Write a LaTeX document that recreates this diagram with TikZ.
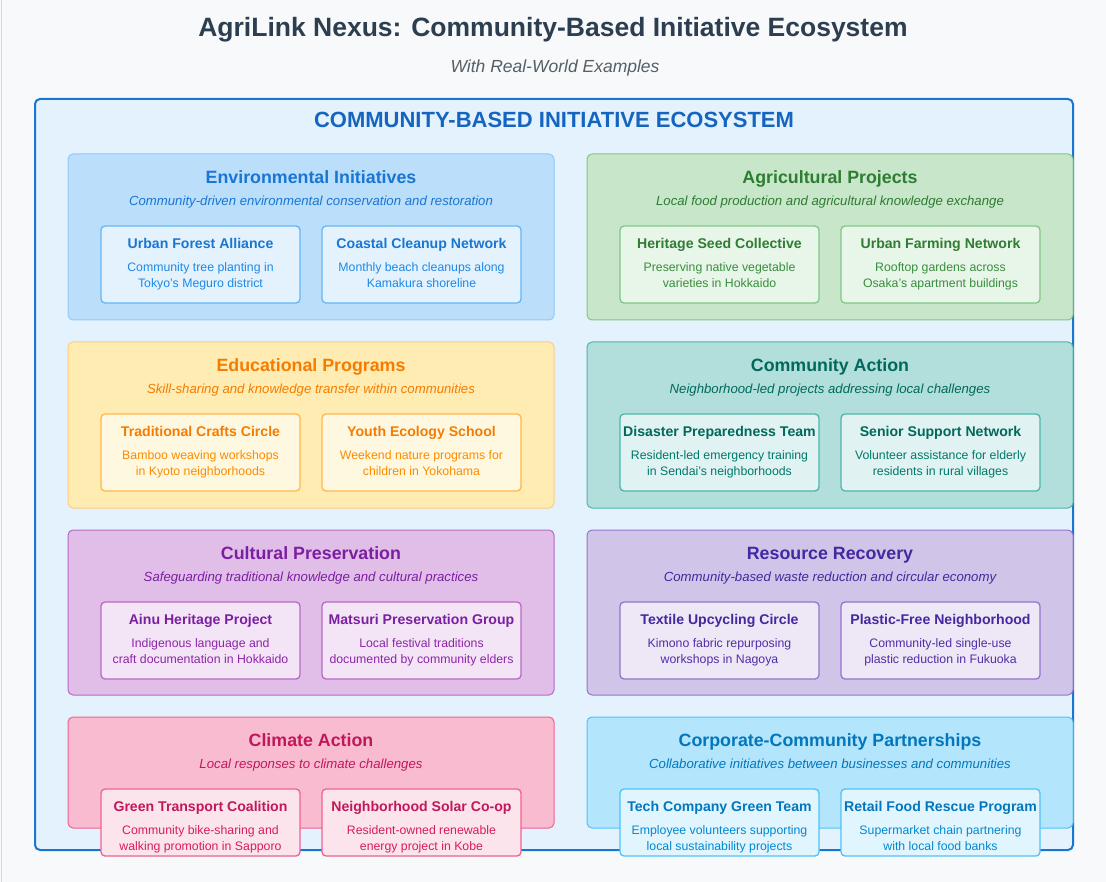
\documentclass[tikz,border=0pt]{standalone}
\usepackage{fontspec}
\setmainfont{Liberation Sans}
\usetikzlibrary{positioning}
\definecolor{pagebg}{HTML}{F8F9FA}
\definecolor{pageline}{HTML}{D6D8DA}
\definecolor{titlecol}{HTML}{2C3E50}
\definecolor{subtcol}{HTML}{555F66}
\definecolor{outfill}{HTML}{E3F2FD}
\definecolor{outdraw}{HTML}{1976D2}
\definecolor{outtext}{HTML}{1565C0}
% themes: fill, border, main, light, subfill, subborder
\definecolor{envfill}{HTML}{BBDEFB}\definecolor{envborder}{HTML}{90CAF9}\definecolor{envmain}{HTML}{1976D2}\definecolor{envlight}{HTML}{1E88E5}\definecolor{envsubfill}{HTML}{E3F2FD}\definecolor{envsubborder}{HTML}{64B5F6}
\definecolor{agrfill}{HTML}{C8E6C9}\definecolor{agrborder}{HTML}{81C784}\definecolor{agrmain}{HTML}{2E7D32}\definecolor{agrlight}{HTML}{388E3C}\definecolor{agrsubfill}{HTML}{E8F5E9}\definecolor{agrsubborder}{HTML}{81C784}
\definecolor{edufill}{HTML}{FFECB3}\definecolor{eduborder}{HTML}{FFCC80}\definecolor{edumain}{HTML}{F57C00}\definecolor{edulight}{HTML}{FB8C00}\definecolor{edusubfill}{HTML}{FFF8E1}\definecolor{edusubborder}{HTML}{FFB74D}
\definecolor{comfill}{HTML}{B2DFDB}\definecolor{comborder}{HTML}{4DB6AC}\definecolor{commain}{HTML}{00695C}\definecolor{comlight}{HTML}{00796B}\definecolor{comsubfill}{HTML}{E0F2F1}\definecolor{comsubborder}{HTML}{4DB6AC}
\definecolor{culfill}{HTML}{E1BEE7}\definecolor{culborder}{HTML}{BA68C8}\definecolor{culmain}{HTML}{7B1FA2}\definecolor{cullight}{HTML}{8E24AA}\definecolor{culsubfill}{HTML}{F3E5F5}\definecolor{culsubborder}{HTML}{BA68C8}
\definecolor{resfill}{HTML}{D1C4E9}\definecolor{resborder}{HTML}{9575CD}\definecolor{resmain}{HTML}{4527A0}\definecolor{reslight}{HTML}{512DA8}\definecolor{ressubfill}{HTML}{EDE7F6}\definecolor{ressubborder}{HTML}{9575CD}
\definecolor{clifill}{HTML}{F8BBD0}\definecolor{cliborder}{HTML}{F06292}\definecolor{climain}{HTML}{C2185B}\definecolor{clilight}{HTML}{D81B60}\definecolor{clisubfill}{HTML}{FCE4EC}\definecolor{clisubborder}{HTML}{F06292}
\definecolor{corfill}{HTML}{B3E5FC}\definecolor{corborder}{HTML}{4FC3F7}\definecolor{cormain}{HTML}{0277BD}\definecolor{corlight}{HTML}{0288D1}\definecolor{corsubfill}{HTML}{E1F5FE}\definecolor{corsubborder}{HTML}{4FC3F7}

\tikzset{
  txt/.style={inner sep=0pt, anchor=mid},
  maintitle/.style={txt, yshift=-6pt, font=\fontsize{26.5}{30}\selectfont\bfseries, text=titlecol},
  mainsub/.style={txt, yshift=-4pt, font=\fontsize{17.5}{20}\selectfont\itshape, text=subtcol},
  outbox/.style={draw=outdraw, fill=outfill, line width=2pt, rounded corners=5pt, inner sep=0pt},
  outhead/.style={txt, yshift=-5pt, font=\fontsize{22}{26}\selectfont\bfseries, text=outtext},
  panelbox/.style={rounded corners=5pt, line width=1pt, inner sep=0pt},
  paneltitle/.style={txt, yshift=-5pt, font=\fontsize{17.8}{21}\selectfont\bfseries},
  panelsub/.style={txt, yshift=-3pt, font=\fontsize{13.2}{15}\selectfont\itshape},
  subboxst/.style={rounded corners=4pt, line width=1.3pt, inner sep=0pt},
  subtitle/.style={txt, yshift=-3pt, font=\fontsize{14.1}{17}\selectfont\bfseries},
  subdesc/.style={txt, yshift=-2.5pt, font=\fontsize{12.3}{14}\selectfont},
}
% #1 name, #2 x1, #3 y1, #4 x2, #5 y2, #6 theme, #7 title, #8 subtitle
\newcommand\agpanel[8]{%
  \node[panelbox, fill=#6fill, draw=#6border, minimum width={#4-#2}, minimum height={#5-#3}]
    (#1) at ({(#2+#4)/2},{(#3+#5)/2}) {};
  \node[paneltitle, text=#6main] (#1-t) at ({(#2+#4)/2},{#3+22}) {#7};
  \node[panelsub, text=#6main] (#1-s) at ({(#2+#4)/2},{#3+46}) {#8};
}
% #1 name, #2 x1, #3 y1, #4 x2, #5 y2, #6 theme, #7 title, #8 line1, #9 line2
\newcommand\agsub[9]{%
  \node[subboxst, fill=#6subfill, draw=#6subborder, minimum width={#4-#2}, minimum height={#5-#3}]
    (#1) at ({(#2+#4)/2},{(#3+#5)/2}) {};
  \node[subtitle, text=#6main] (#1-t) at ({(#2+#4)/2},{#3+17}) {#7};
  \node[subdesc, text=#6light] (#1-a) at ({(#2+#4)/2},{#3+40}) {#8};
  \node[subdesc, text=#6light] (#1-b) at ({(#2+#4)/2},{#3+56}) {#9};
}

\begin{document}
\begin{tikzpicture}[x=1pt, y=-1pt]
\useasboundingbox (0,0) rectangle (1106,882);
\fill[pagebg] (0,0) rectangle (1106,882);
\draw[pageline, line width=1pt] (1,0) -- (1,882);

\node[maintitle] (title) at (553,28) {AgriLink Nexus: Community-Based Initiative Ecosystem};
\node[mainsub] (subtitle) at (555,66) {With Real-World Examples};

\node[outbox, minimum width=1038, minimum height=751] (outer) at (554,474.5) {};
\node[outhead] (outhead) at (554,120) {COMMUNITY-BASED INITIATIVE ECOSYSTEM};

% Row 1
\agpanel{env}{68}{154}{554}{320}{env}{Environmental Initiatives}{Community-driven environmental conservation and restoration}
\agsub{env1}{101}{226}{300}{303}{env}{Urban Forest Alliance}{Community tree planting in}{Tokyo's Meguro district}
\agsub{env2}{322}{226}{521}{303}{env}{Coastal Cleanup Network}{Monthly beach cleanups along}{Kamakura shoreline}
\agpanel{agr}{587}{154}{1073}{320}{agr}{Agricultural Projects}{Local food production and agricultural knowledge exchange}
\agsub{agr1}{620}{226}{819}{303}{agr}{Heritage Seed Collective}{Preserving native vegetable}{varieties in Hokkaido}
\agsub{agr2}{841}{226}{1040}{303}{agr}{Urban Farming Network}{Rooftop gardens across}{Osaka's apartment buildings}

% Row 2
\agpanel{edu}{68}{342}{554}{508}{edu}{Educational Programs}{Skill-sharing and knowledge transfer within communities}
\agsub{edu1}{101}{414}{300}{491}{edu}{Traditional Crafts Circle}{Bamboo weaving workshops}{in Kyoto neighborhoods}
\agsub{edu2}{322}{414}{521}{491}{edu}{Youth Ecology School}{Weekend nature programs for}{children in Yokohama}
\agpanel{com}{587}{342}{1073}{508}{com}{Community Action}{Neighborhood-led projects addressing local challenges}
\agsub{com1}{620}{414}{819}{491}{com}{Disaster Preparedness Team}{Resident-led emergency training}{in Sendai's neighborhoods}
\agsub{com2}{841}{414}{1040}{491}{com}{Senior Support Network}{Volunteer assistance for elderly}{residents in rural villages}

% Row 3
\agpanel{cul}{68}{530}{554}{695}{cul}{Cultural Preservation}{Safeguarding traditional knowledge and cultural practices}
\agsub{cul1}{101}{602}{300}{679}{cul}{Ainu Heritage Project}{Indigenous language and}{craft documentation in Hokkaido}
\agsub{cul2}{322}{602}{521}{679}{cul}{Matsuri Preservation Group}{Local festival traditions}{documented by community elders}
\agpanel{res}{587}{530}{1073}{695}{res}{Resource Recovery}{Community-based waste reduction and circular economy}
\agsub{res1}{620}{602}{819}{679}{res}{Textile Upcycling Circle}{Kimono fabric repurposing}{workshops in Nagoya}
\agsub{res2}{841}{602}{1040}{679}{res}{Plastic-Free Neighborhood}{Community-led single-use}{plastic reduction in Fukuoka}

% Row 4
\agpanel{cli}{68}{717}{554}{828}{cli}{Climate Action}{Local responses to climate challenges}
\agsub{cli1}{101}{789}{300}{856}{cli}{Green Transport Coalition}{Community bike-sharing and}{walking promotion in Sapporo}
\agsub{cli2}{322}{789}{521}{856}{cli}{Neighborhood Solar Co-op}{Resident-owned renewable}{energy project in Kobe}
\agpanel{cor}{587}{717}{1073}{828}{cor}{Corporate-Community Partnerships}{Collaborative initiatives between businesses and communities}
\agsub{cor1}{620}{789}{819}{856}{cor}{Tech Company Green Team}{Employee volunteers supporting}{local sustainability projects}
\agsub{cor2}{841}{789}{1040}{856}{cor}{Retail Food Rescue Program}{Supermarket chain partnering}{with local food banks}
\end{tikzpicture}
\end{document}
